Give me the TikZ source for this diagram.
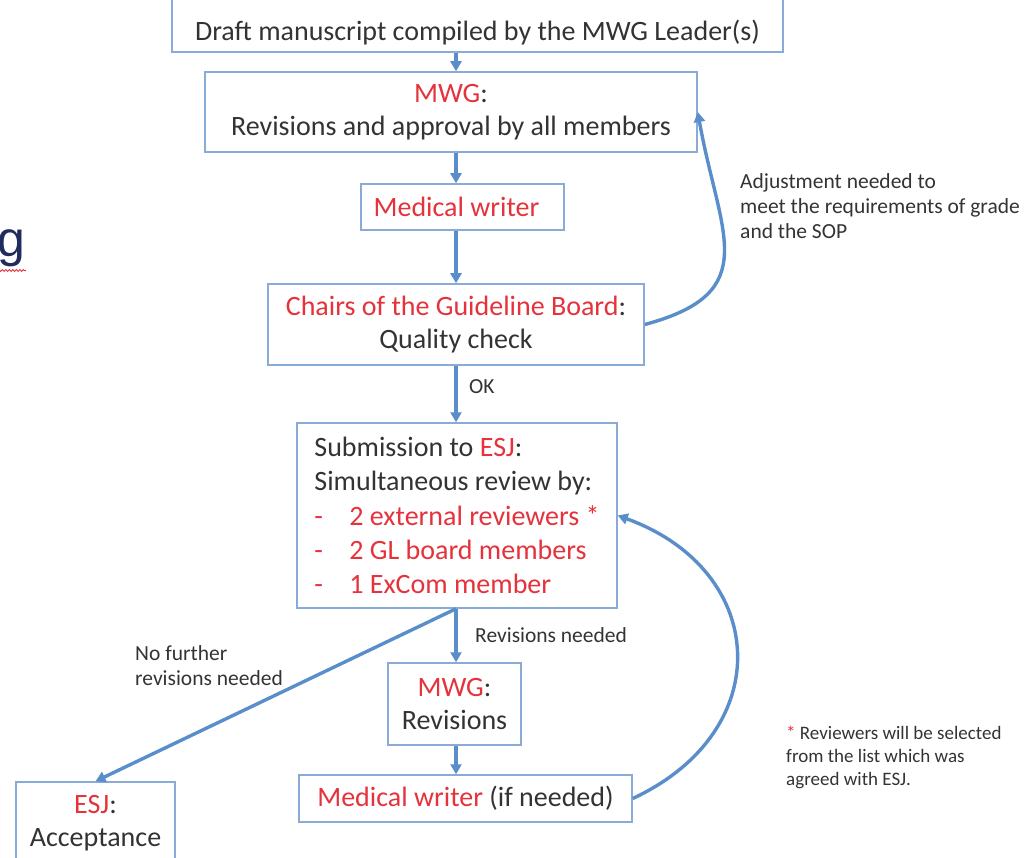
\documentclass[tikz,border=0pt]{standalone}
\usepackage{fontspec}
\setmainfont{Carlito}
\newfontfamily\titlefont{Liberation Sans}
\usetikzlibrary{arrows.meta,positioning,decorations.pathmorphing}
\definecolor{boxblue}{HTML}{8AAAD8}
\definecolor{arrblue}{HTML}{5A8ECB}
\definecolor{mwgred}{HTML}{E5323B}
\definecolor{txtgray}{HTML}{333333}
\definecolor{navy}{HTML}{1F2C5C}
\newcommand{\rd}[1]{\textcolor{mwgred}{#1}}

\begin{document}
\begin{tikzpicture}[x=1pt, y=-1pt,
    box/.style={draw=boxblue, line width=1.5pt, fill=white, align=center, text=txtgray, inner sep=0pt, font=\fontsize{28}{33}\selectfont},
    lbl/.style={anchor=west, align=left, inner sep=0pt, text=txtgray, font=\fontsize{21.5}{25}\selectfont},
    arr/.style={-{Triangle[length=10pt,width=11pt]}, draw=arrblue, line width=3.4pt}
]
\useasboundingbox (0,0) rectangle (1030,858);
\coordinate (col) at (456,0);

\node[box, minimum width=611pt, text height=55pt, text depth=11pt, anchor=base] (draft) at (477.5,41) {Draft manuscript compiled by the MWG Leader(s)};
\node[box, minimum width=492pt, minimum height=80pt] (mwg) at (451,112) {\rd{MWG}:\\Revisions and approval by all members};
\node[box, minimum width=203pt, minimum height=46pt] (writer) at (462.5,207) {\rd{Medical writer}\hspace*{12pt}};
\node[box, minimum width=376pt, minimum height=81pt] (chairs) at (456,324.5) {\rd{Chairs of the Guideline Board}:\\Quality check};
\node[box, minimum width=320pt, minimum height=185pt, align=left, font=\fontsize{28}{34.25}\selectfont] (submit) at (457,515.5) {Submission to \rd{ESJ}:\\
  Simultaneous review by:\\
  \rd{\makebox[35pt][l]{-}2 external reviewers *}\\
  \rd{\makebox[35pt][l]{-}2 GL board members}\\
  \rd{\makebox[35pt][l]{-}1 ExCom member}};
\node[box, minimum width=133pt, minimum height=82pt] (revise) at (454.5,704) {\rd{MWG}:\\Revisions};
\node[box, minimum width=333pt, minimum height=47pt] (writerb) at (465.5,798.5) {\rd{Medical writer} (if needed)};
\node[box, minimum width=159pt, minimum height=83pt] (esj) at (95.5,823.5) {\rd{ESJ}:\\Acceptance};

\node[lbl] (ok) at (469,387) {OK};
\node[lbl] (revneeded) at (475,635) {Revisions needed};
\node[lbl] (nofurther) at (135,665.5) {No further\\revisions needed};
\node[lbl] (adjust) at (740,206) {Adjustment needed to\\meet the requirements of grade\\and the SOP};
\node[lbl, font=\fontsize{19}{23}\selectfont] (note) at (786,757) {\rd{*} Reviewers will be selected\\from the list which was\\agreed with ESJ.};

\node[inner sep=0pt, anchor=base east, text=navy, font=\titlefont\fontsize{50}{56}\selectfont] (gtitle) at (26,257) {g};
\draw[mwgred, line width=0.9pt, decorate, decoration={snake, amplitude=0.9pt, segment length=3.5pt}] ([yshift=-3pt]gtitle.south west) -- ([yshift=-3pt]gtitle.south east);

\draw[arr] (draft.south -| col) -- (mwg.north -| col);
\draw[arr] (mwg.south -| col) -- (writer.north -| col);
\draw[arr] (writer.south -| col) -- (chairs.north -| col);
\draw[arr] (chairs.south -| col) -- (submit.north -| col);
\draw[arr] (submit.south -| col) -- (revise.north -| col);
\draw[arr] (revise.south -| col) -- (writerb.north -| col);
\draw[arr] (submit.south -| col) -- (esj.north);
\draw[arr] (chairs.east) to[out=15, in=-80, looseness=1.45] (mwg.east);
\draw[arr] (writerb.east) to[out=25, in=-20, looseness=1.45] (submit.east);
\end{tikzpicture}
\end{document}
